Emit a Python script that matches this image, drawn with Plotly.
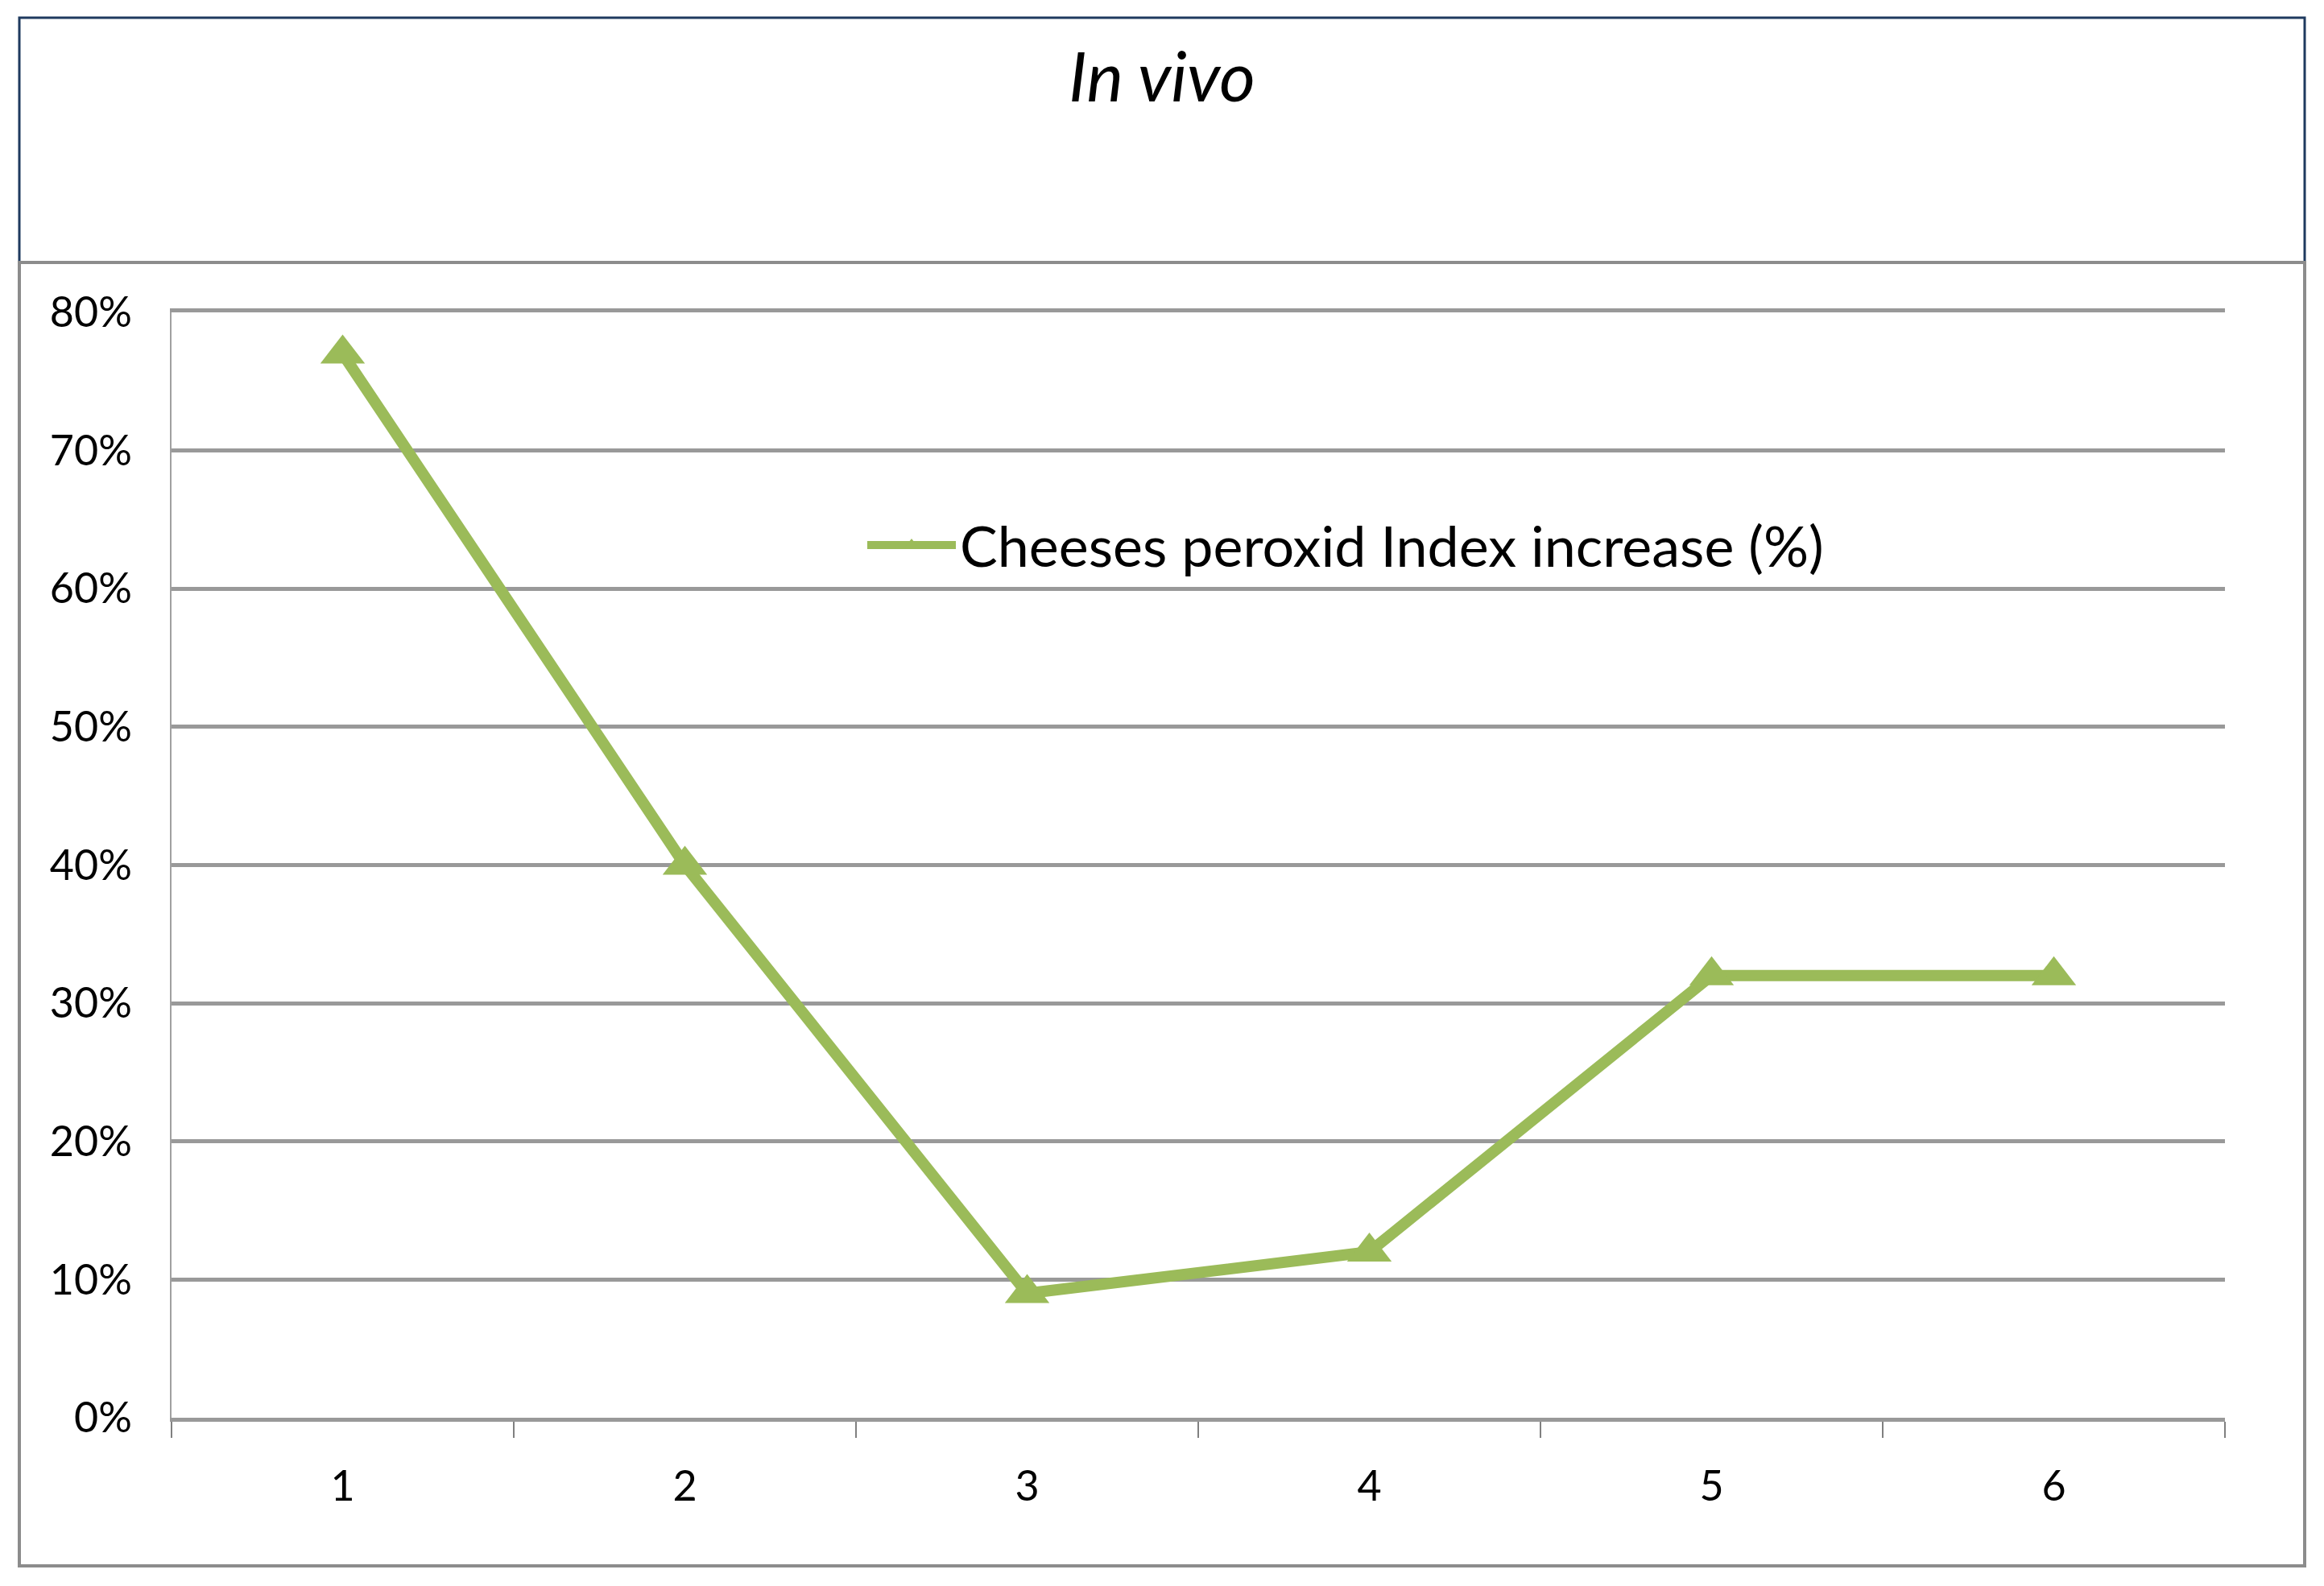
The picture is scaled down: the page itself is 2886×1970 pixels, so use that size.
import plotly.graph_objects as go

days = ["1", "2", "3", "4", "5", "6"]
increase = [0.77, 0.40, 0.09, 0.12, 0.32, 0.32]
series_name = "Cheeses peroxid Index increase (%)"
y_ticks = [0, 0.1, 0.2, 0.3, 0.4, 0.5, 0.6, 0.7, 0.8]

# page has an 8px body margin, so the figure is a bit smaller than the window
OFF = 8
W, H = 2886 - 2 * OFF, 1970 - 2 * OFF
L, R, T, B = 213 - OFF, 2763 - OFF, 388 - OFF, 1761 - OFF  # plot area

green = "#9BBB59"
grid = "#999999"


def px(x):
    return (x - OFF - L) / (R - L)


def py(y):
    return (B - (y - OFF)) / (B - T)


fig = go.Figure()
fig.add_trace(go.Scatter(
    x=days, y=increase, name=series_name,
    mode="lines+markers",
    line=dict(color=green, width=14),
    marker=dict(symbol="triangle-up", size=48, color=green),
))

# title box and chart box
fig.add_shape(type="rect", xref="paper", yref="paper",
              x0=px(24), x1=px(2862), y0=py(326), y1=py(22),
              line=dict(color="#1F3A5F", width=3), layer="below")
fig.add_shape(type="rect", xref="paper", yref="paper",
              x0=px(24), x1=px(2862), y0=py(1945), y1=py(326),
              line=dict(color="#8C8C8C", width=4), layer="below")

fig.update_layout(
    width=W, height=H,
    margin=dict(l=L, r=W - R, t=T, b=H - B),
    paper_bgcolor="white", plot_bgcolor="white",
    font=dict(family="Lato", color="black"),
    title=dict(text="<i>In vivo</i>", x=0.5, xref="container",
               y=1 - (96 - OFF) / H, yref="container", yanchor="middle",
               xanchor="center", font=dict(size=86, family="Lato")),
    showlegend=True,
    legend=dict(x=px(1072), y=py(677), xanchor="left", yanchor="middle",
                itemwidth=110, itemsizing="trace",
                bgcolor="rgba(0,0,0,0)", font=dict(size=70, family="Lato")),
)
fig.update_xaxes(type="category", range=[-0.5, 5.5], tickson="boundaries",
                 ticks="outside", ticklen=20, tickwidth=1.5, tickcolor="#808080",
                 showline=True, mirror=True, linecolor=grid, linewidth=5,
                 showgrid=False, tickfont=dict(size=52), ticklabelstandoff=36)
fig.update_yaxes(range=[0, 0.8], tickvals=y_ticks, tickformat=".0%",
                 showgrid=True, gridcolor=grid, gridwidth=5,
                 showline=True, linecolor="#A0A0A0", linewidth=1.5,
                 zeroline=False, tickfont=dict(size=52), ticklabelstandoff=37)

fig.write_html("out.html")
